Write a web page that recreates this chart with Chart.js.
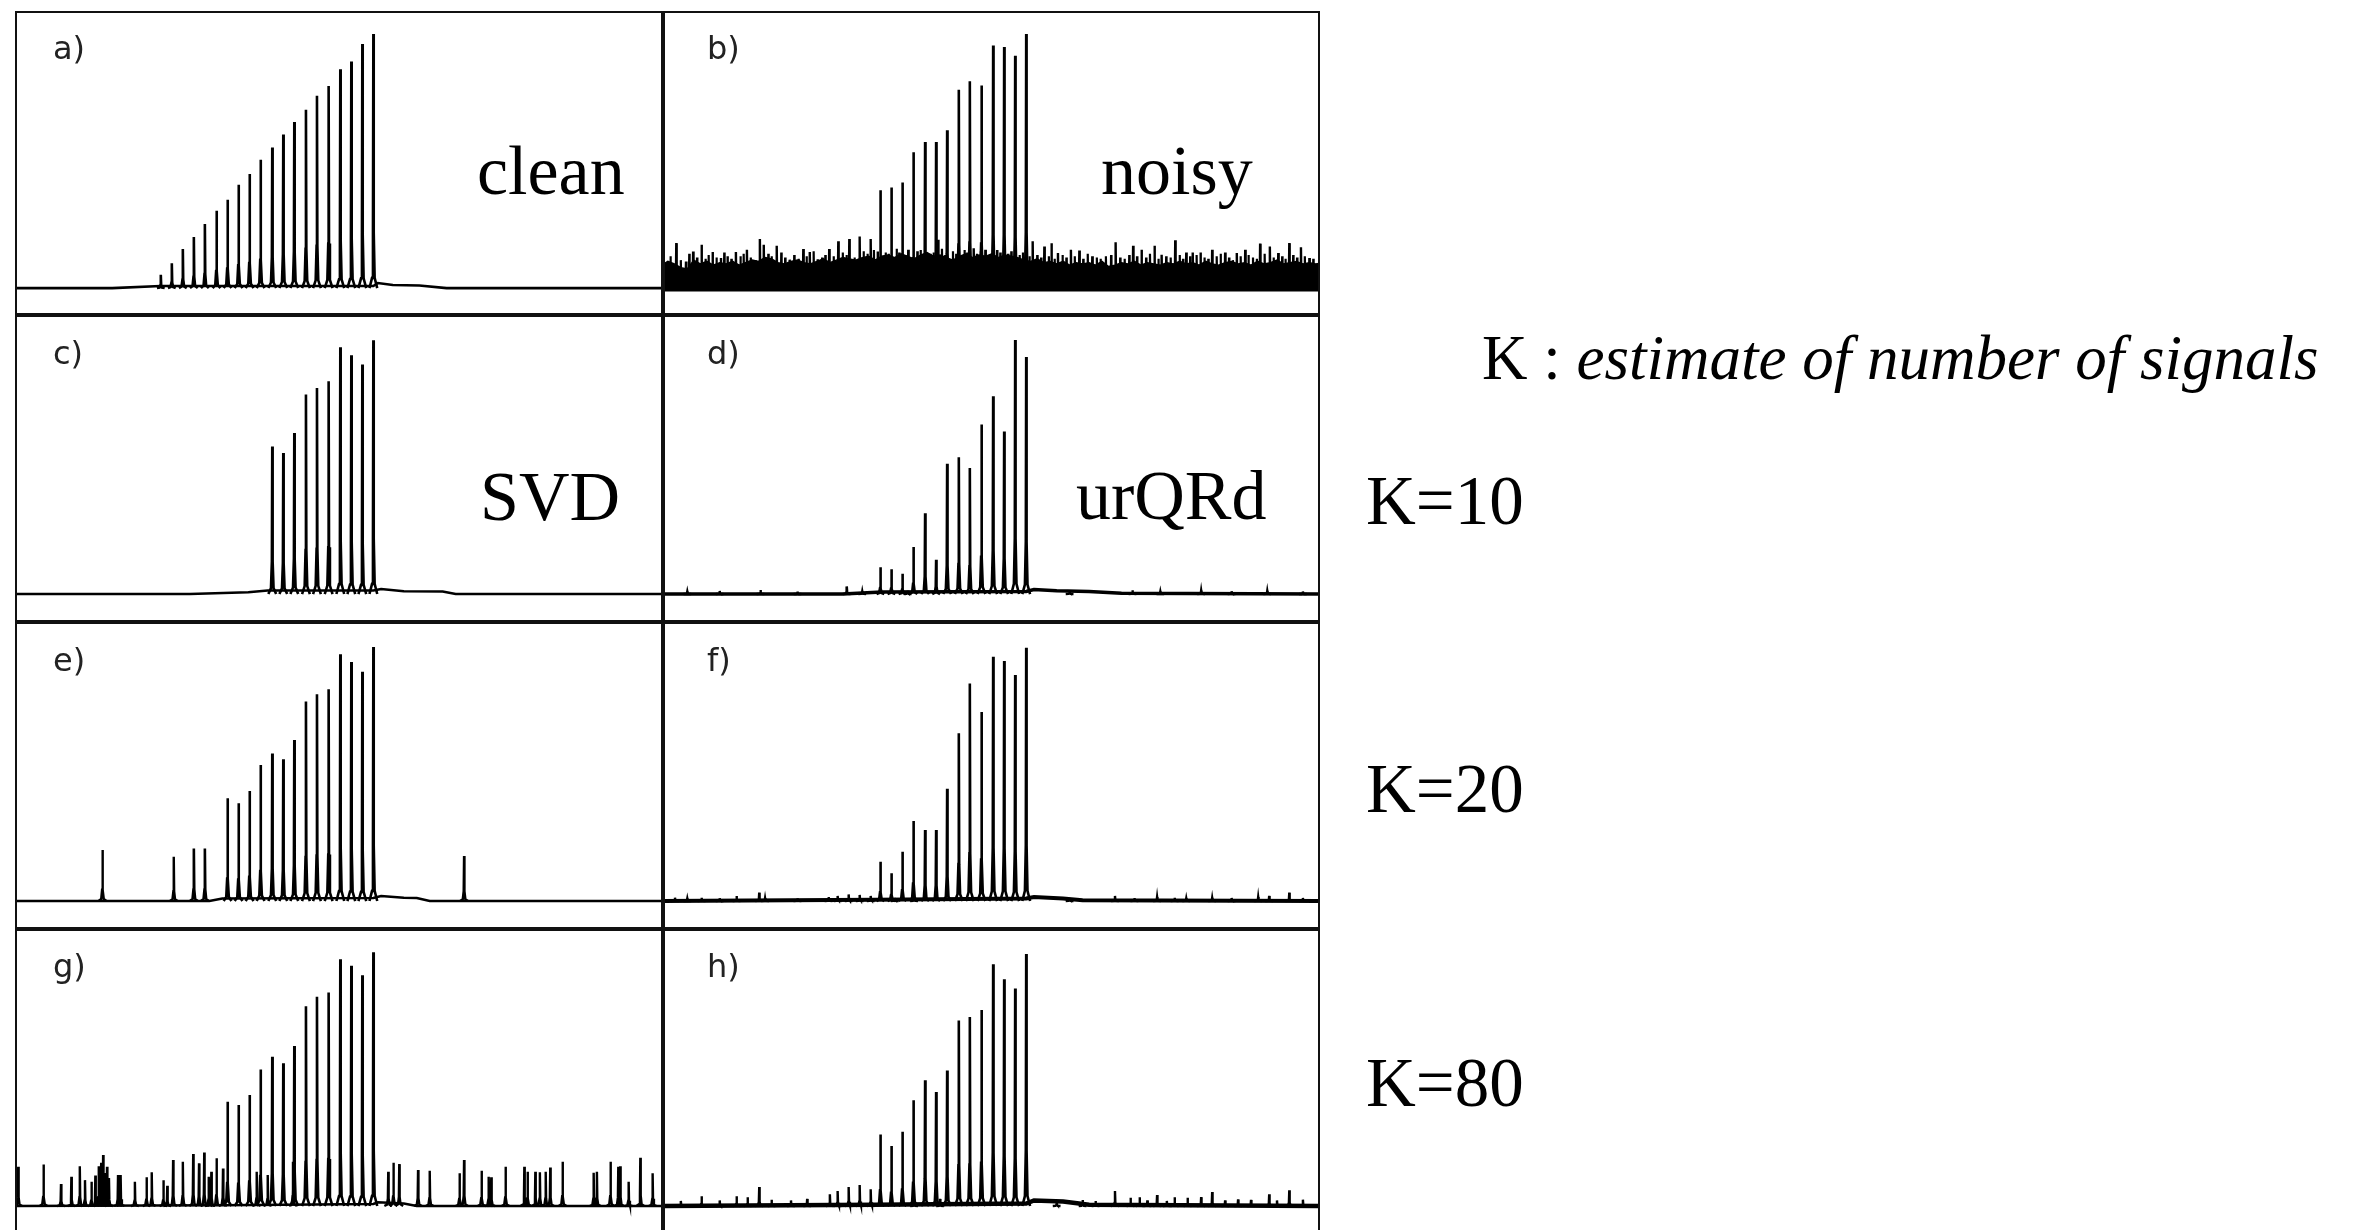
<!DOCTYPE html>
<html>
<head>
    <title>Denoising comparison, SVD vs urQRd</title>
    <script src="https://cdn.jsdelivr.net/npm/chart.js@4.4.1/dist/chart.umd.min.js"></script>
    <style>
        body {
            margin: 0;
            background: #fff;
            width: 2359px;
            height: 1230px;
            overflow: hidden;
            position: relative;
        }
        canvas { position: absolute; }
        .tag {
            position: absolute;
            font-family: "DejaVu Sans", sans-serif;
            font-size: 32px;
            line-height: 32px;
            color: #222;
        }
        .name {
            position: absolute;
            font-family: "Liberation Serif", serif;
            font-size: 70px;
            line-height: 70px;
            white-space: nowrap;
            color: #000;
        }
    </style>
</head>
<body>
<canvas id="pa" width="648" height="304" style="left:15px;top:11px"></canvas>
<canvas id="pb" width="657" height="304" style="left:663px;top:11px"></canvas>
<canvas id="pc" width="648" height="307" style="left:15px;top:315px"></canvas>
<canvas id="pd" width="657" height="307" style="left:663px;top:315px"></canvas>
<canvas id="pe" width="648" height="307" style="left:15px;top:622px"></canvas>
<canvas id="pf" width="657" height="307" style="left:663px;top:622px"></canvas>
<canvas id="pg" width="648" height="307" style="left:15px;top:929px"></canvas>
<canvas id="ph" width="657" height="307" style="left:663px;top:929px"></canvas>

<div class="tag" style="left:53px;top:32px">a)</div>
<div class="tag" style="left:707px;top:32px">b)</div>
<div class="tag" style="left:53px;top:337px">c)</div>
<div class="tag" style="left:707px;top:337px">d)</div>
<div class="tag" style="left:53px;top:644px">e)</div>
<div class="tag" style="left:707px;top:644px">f)</div>
<div class="tag" style="left:53px;top:950px">g)</div>
<div class="tag" style="left:707px;top:950px">h)</div>

<div class="name" style="left:477px;top:136px">clean</div>
<div class="name" style="left:1101px;top:136px">noisy</div>
<div class="name" style="left:480px;top:462px">SVD</div>
<div class="name" style="left:1076px;top:461px">urQRd</div>

<div class="name" style="left:1482px;top:327px;font-size:63px;line-height:63px">K : <i>estimate of number of signals</i></div>
<div class="name" style="left:1366px;top:467px;font-size:69px;line-height:69px">K=10</div>
<div class="name" style="left:1366px;top:755px;font-size:69px;line-height:69px">K=20</div>
<div class="name" style="left:1366px;top:1049px;font-size:69px;line-height:69px">K=80</div>

<script>
    // peak positions on a 0..1000 frequency axis, shared by all eight spectra
    var peakPos = [225, 242, 259, 276, 293, 311, 328, 345, 362, 379, 397, 414, 431, 449, 466, 484, 502, 519, 536, 553];

    // peak heights, % of the tallest clean peak (null = peak not recovered)
    var cleanPeaks  = [5.2, 9.8, 15.4, 20.1, 25.2, 30.4, 34.8, 40.7, 44.9, 50.5, 55.4, 60.5, 65.4, 70.2, 75.7, 79.6, 86.2, 89.2, 96.1, 100];
    var noisyPeaks  = [null, null, null, null, null, null, 38.5, 39.6, 41.6, 53.5, 57.5, 57.5, 62.1, 78.1, 81.4, 79.8, 95.5, 94.9, 91.5, 100];
    var svd10Peaks  = [null, null, null, null, null, null, null, null, null, null, 58.1, 55.5, 63.4, 78.5, 81.1, 83.7, 97.1, 94.0, 90.3, 99.9];
    var urq10Peaks  = [null, null, null, 3.0, null, null, 10.5, 9.8, 8.0, 18.5, 31.8, 13.5, 51.3, 53.8, 49.6, 66.7, 77.8, 64.0, 100, 93.3];
    var svd20Peaks  = [null, null, null, 20.7, 20.7, null, 40.4, 38.5, 43.3, 53.5, 58.1, 55.8, 63.4, 78.5, 81.4, 83.3, 97.1, 94.1, 90.2, 100];
    var urq20Peaks  = [null, null, null, null, null, null, 15.5, 10.9, 19.4, 31.5, 28.0, 28.0, 44.2, 66.0, 85.6, 74.4, 96.1, 94.5, 88.9, 99.7];
    var svd80Peaks  = [null, null, null, null, null, null, 41.1, 39.8, 43.7, 53.8, 58.8, 56.2, 63.0, 78.7, 82.4, 84.1, 97.2, 94.6, 90.9, 99.9];
    var urq80Peaks  = [null, null, null, null, null, null, 28.2, 23.6, 29.3, 41.7, 49.5, 44.9, 53.4, 73.1, 74.4, 77.2, 95.2, 89.3, 85.7, 99.3];

    // slow baseline drift under each spectrum
    var cleanBaseX = [-10, 150, 225, 553, 560, 583, 624, 666, 1010];
    var cleanBaseY = [0, 0, 0.8, 0.8, 2.0, 1.2, 1.0, 0, 0];
    var svd10BaseX = [-10, 270, 360, 390, 553, 565, 600, 660, 680, 1010];
    var svd10BaseY = [0, 0, 0.7, 1.4, 1.4, 2.0, 1.1, 1.0, 0, 0];
    var urq10BaseX = [-10, 270, 330, 553, 565, 600, 650, 700, 1010];
    var urq10BaseY = [0, 0, 0.8, 1.0, 1.8, 1.3, 1.0, 0.3, 0];
    var svd20BaseX = [-10, 300, 320, 553, 565, 600, 620, 640, 1010];
    var svd20BaseY = [0, 0, 1.0, 1.2, 2.0, 1.3, 1.2, 0, 0];
    var urq20BaseX = [-10, 320, 553, 565, 610, 640, 1010];
    var urq20BaseY = [0, 0.5, 1.0, 1.6, 1.0, 0.3, 0];
    var svd80BaseX = [-10, 320, 553, 560, 600, 620, 1010];
    var svd80BaseY = [0, 0.3, 0.8, 1.5, 1.0, 0, 0];
    var urq80BaseX = [-10, 320, 553, 565, 610, 650, 1010];
    var urq80BaseY = [0, 0.5, 1.0, 2.2, 1.8, 0.5, 0];

    // noise floor of the raw spectrum, sampled every 10 units from -10 to 1010
    var noisyBand = [9.0,
        10.5, 9.5, 8.0, 7.5, 11.0, 9.5, 10.5, 9.0, 10.0, 9.5,
        10.5, 9.0, 10.0, 11.0, 10.5, 12.0, 11.5, 10.0, 9.5, 10.5,
        11.0, 10.0, 9.5, 10.5, 11.5, 10.0, 11.0, 12.0, 11.5, 11.0,
        12.0, 12.5, 11.0, 12.5, 13.0, 12.0, 13.5, 12.5, 11.5, 13.0,
        14.0, 12.5, 13.0, 12.0, 11.0, 12.5, 13.5, 12.0, 13.0, 12.5,
        13.5, 12.0, 13.0, 12.5, 12.0, 11.0, 10.5, 11.5, 10.0, 10.5,
        9.5, 10.5, 9.0, 10.0, 9.5, 10.0, 9.0, 10.5, 8.5, 9.0,
        10.0, 9.5, 10.5, 9.0, 10.0, 9.5, 9.0, 10.0, 9.5, 10.5,
        9.5, 10.0, 9.0, 10.5, 9.5, 9.0, 10.0, 10.5, 9.5, 10.0,
        9.0, 10.5, 9.5, 10.0, 11.0, 9.5, 10.0, 10.5, 9.5, 10.0, 9.5,
        10.0];
    // short noise lines that roughen the top of the floor
    var noisyFloorX = [4, 20, 33, 45, 58, 63, 75, 87, 98, 112, 117, 128, 135, 155, 160, 175, 181, 195, 202, 214,
        225, 238, 243, 256, 270, 276, 288, 302, 308, 318, 336, 341, 353, 357, 367, 385, 390, 405, 410, 423,
        428, 440, 445, 458, 462, 477, 483, 495, 508, 513, 525, 530, 543, 548, 558, 570, 576, 588, 597, 609,
        615, 628, 641, 648, 662, 668, 676, 684, 698, 705, 712, 724, 738, 744, 757, 769, 776, 790, 795, 806,
        816, 828, 834, 847, 853, 866, 872, 884, 896, 903, 909, 921, 935, 948, 953, 965, 971, 983, 996];
    var noisyFloorY = [12.5, 11.0, 13.5, 12.0, 11.5, 13.0, 12.0, 14.0, 11.5, 12.5, 13.5, 12.0, 11.0, 13.5, 12.5, 14.0, 12.0, 13.0, 11.5, 12.5,
        14.5, 12.0, 13.0, 12.5, 14.0, 13.0, 12.0, 14.5, 13.5, 15.0, 14.0, 13.5, 15.5, 14.0, 13.0, 14.5, 15.0, 13.5, 14.0, 15.5,
        13.0, 14.5, 13.5, 15.0, 14.0, 13.5, 14.5, 13.0, 15.0, 14.0, 13.5, 14.5, 13.0, 14.0, 12.5, 13.0, 12.0, 12.5, 11.5, 13.0,
        12.0, 12.5, 11.5, 13.5, 12.0, 11.5, 12.5, 13.0, 12.0, 11.5, 13.0, 12.5, 12.0, 13.5, 11.5, 12.5, 12.0, 13.0, 11.5, 12.5,
        13.0, 12.0, 11.5, 12.5, 13.5, 12.0, 11.0, 12.5, 13.0, 12.0, 11.5, 13.5, 12.0, 12.5, 11.5, 13.0, 12.0, 12.5, 11.5];
    // taller noise spikes standing out of the floor
    var noisySpikeX = [13, 28, 39, 52, 69, 82, 92, 105, 122, 142, 148, 168, 188, 209, 219, 231, 249, 263, 280, 296, 313, 324,
        371, 401, 417, 472, 490, 563, 581, 592, 602, 622, 635, 655, 691, 718, 731, 751, 762, 783, 800, 810, 822, 840, 860,
        878, 891, 914, 929, 942, 959, 977, 990];
    var noisySpikeY = [17.7, 10.5, 14.4, 17.1, 14.2, 11.8, 12.5, 14.2, 15.1, 19.3, 17.1, 16.7, 11.2, 15.4, 14.2, 11.4, 15.4, 18.4, 19.3, 20.3, 19.3, 14.4,
        15.1, 13.8, 19.0, 15.7, 15.1, 18.4, 16.4, 17.7, 13.8, 15.1, 14.8, 12.5, 18.0, 16.7, 15.1, 16.7, 13.1, 18.8, 14.0, 14.0, 14.0, 15.1, 14.0,
        13.8, 15.1, 17.5, 16.4, 13.8, 17.7, 16.1, 11.8];

    // spurious or residual lines after denoising
    var urq10SpikeX = [30, 80, 143, 200, 300, 370, 620, 717, 760, 823, 870, 925, 980];
    var urq10SpikeY = [1.0, 1.2, 1.6, 1.0, 1.1, 1.3, 1.2, 1.5, 1.0, 1.4, 1.1, 1.3, 1.0];
    var svd20SpikeX = [135, 245, 693];
    var svd20SpikeY = [20.1, 17.4, 17.7];
    var urq20SpikeX = [11, 30, 52, 80, 106, 141, 150, 200, 248, 262, 279, 296, 313, 350, 380, 620, 690, 720, 755, 782, 800, 840, 870, 911, 928, 959, 980];
    var urq20SpikeY = [1.3, 1.0, 1.3, 1.1, 2.0, 3.3, 1.2, 1.1, 1.6, 2.0, 2.6, 2.4, 2.0, 1.2, 1.3, 1.1, 2.0, 1.2, 1.6, 1.3, 1.1, 1.3, 1.2, 1.6, 2.0, 3.3, 1.2];
    var svd80SpikeX = [5, 44, 71, 87, 100, 108, 118, 124, 129, 133, 136, 139, 142, 145, 159, 163, 185, 203, 211, 229, 235,
        244, 259, 275, 284, 292, 299, 303, 311, 321, 373, 390, 429, 576, 584, 593, 622, 640, 686, 693, 720, 731, 735,
        757, 786, 791, 803, 810, 819, 826, 845, 893, 898, 919, 931, 934, 947, 965, 984];
    var svd80SpikeY = [15.5, 16.4, 8.7, 11.5, 15.7, 10.2, 9.6, 12.0, 15.7, 17.0, 20.1, 13.0, 15.5, 11.0, 12.2, 12.2, 9.6, 11.3, 13.3, 10.2, 8.0,
        18.1, 17.4, 20.5, 16.8, 21.1, 11.5, 13.5, 18.8, 14.8, 13.5, 12.2, 17.4, 13.5, 17.0, 16.5, 14.2, 13.9, 12.9, 18.1, 13.9, 11.5, 11.3,
        15.5, 15.5, 13.5, 13.5, 13.3, 13.5, 15.2, 17.4, 13.1, 13.5, 17.4, 15.5, 15.7, 9.6, 19.0, 12.9];
    var urq80SpikeX = [20, 52, 80, 106, 123, 141, 160, 190, 215, 250, 262, 279, 296, 313, 380, 420, 600, 640, 660, 690, 714, 728,
        740, 755, 770, 782, 802, 823, 840, 860, 880, 900, 928, 940, 959, 980];
    var urq80SpikeY = [2.0, 3.9, 2.2, 3.9, 3.5, 7.5, 2.5, 2.2, 2.8, 4.6, 5.9, 7.5, 8.3, 6.6, 2.5, 2.8, 2.0, 2.4, 2.0, 5.9, 3.3, 3.5,
        2.2, 4.3, 2.0, 3.5, 3.3, 3.5, 5.5, 2.2, 2.6, 2.4, 4.6, 2.2, 6.2, 2.5];

    function pairs(xs, ys) {
        return xs.map(function (x, i) { return { x: x, y: ys[i] }; });
    }

    // each line is a narrow spike with Lorentzian-looking wings, separated by a gap
    function spikes(xs, hs) {
        var pts = [];
        xs.forEach(function (x, i) {
            var h = hs[i];
            if (h == null) return;
            pts.push({ x: x - 6, y: 0 }, { x: x - 2, y: h * 0.04 }, { x: x - 0.6, y: h * 0.22 }, { x: x, y: h },
                     { x: x + 0.6, y: h * 0.22 }, { x: x + 2, y: h * 0.04 }, { x: x + 6, y: 0 }, { x: x + 6, y: null });
        });
        return pts;
    }

    var frame = {
        id: 'frame',
        afterDraw: function (chart) {
            var ctx = chart.ctx;
            ctx.save();
            ctx.strokeStyle = '#111';
            ctx.lineWidth = 2;
            ctx.strokeRect(1, 1, chart.width - 2, chart.height - 2);
            ctx.restore();
        }
    };

    var yMax = [109.1, 109.8, 109.8, 109.1];
    var yMin = [-10.6, -11.0, -11.0, -11.8];

    function panel(id, col, row, parts) {
        var sets = [];
        if (parts.band) {
            sets.push({
                data: parts.band.map(function (v, i) { return { x: -10 + i * 10, y: v }; }),
                borderColor: '#000', backgroundColor: '#000', borderWidth: 1.5,
                fill: { value: -1.3 }
            });
        }
        if (parts.floorX) {
            sets.push({ data: spikes(parts.floorX, parts.floorY), borderColor: '#000', borderWidth: 2.2, fill: false });
        }
        if (parts.baseX) {
            sets.push({ data: pairs(parts.baseX, parts.baseY), borderColor: '#000', borderWidth: parts.floor || 2.6, fill: false });
        }
        sets.push({ data: spikes(peakPos, parts.peaks), borderColor: '#000', borderWidth: 2.6, fill: false });
        if (parts.spikeX) {
            sets.push({ data: spikes(parts.spikeX, parts.spikeY), borderColor: '#000', borderWidth: 2.4, fill: false });
        }
        new Chart(document.getElementById(id).getContext('2d'), {
            type: 'line',
            data: { datasets: sets },
            options: {
                animation: false,
                responsive: false,
                devicePixelRatio: 1,
                events: [],
                layout: { padding: 0 },
                plugins: { legend: { display: false }, tooltip: { enabled: false } },
                elements: { point: { radius: 0 }, line: { tension: 0 } },
                scales: {
                    x: { type: 'linear', display: false, min: col ? -7.5 : 0, max: col ? 1006.4 : 1000 },
                    y: { type: 'linear', display: false, min: yMin[row], max: yMax[row] }
                }
            },
            plugins: [frame]
        });
    }

    panel('pa', 0, 0, { peaks: cleanPeaks, baseX: cleanBaseX, baseY: cleanBaseY });
    panel('pb', 1, 0, { peaks: noisyPeaks, band: noisyBand, floorX: noisyFloorX, floorY: noisyFloorY, spikeX: noisySpikeX, spikeY: noisySpikeY });
    panel('pc', 0, 1, { peaks: svd10Peaks, baseX: svd10BaseX, baseY: svd10BaseY });
    panel('pd', 1, 1, { peaks: urq10Peaks, baseX: urq10BaseX, baseY: urq10BaseY, floor: 3.6, spikeX: urq10SpikeX, spikeY: urq10SpikeY });
    panel('pe', 0, 2, { peaks: svd20Peaks, baseX: svd20BaseX, baseY: svd20BaseY, spikeX: svd20SpikeX, spikeY: svd20SpikeY });
    panel('pf', 1, 2, { peaks: urq20Peaks, baseX: urq20BaseX, baseY: urq20BaseY, floor: 4, spikeX: urq20SpikeX, spikeY: urq20SpikeY });
    panel('pg', 0, 3, { peaks: svd80Peaks, baseX: svd80BaseX, baseY: svd80BaseY, spikeX: svd80SpikeX, spikeY: svd80SpikeY });
    panel('ph', 1, 3, { peaks: urq80Peaks, baseX: urq80BaseX, baseY: urq80BaseY, floor: 4.4, spikeX: urq80SpikeX, spikeY: urq80SpikeY });
</script>
</body>
</html>
